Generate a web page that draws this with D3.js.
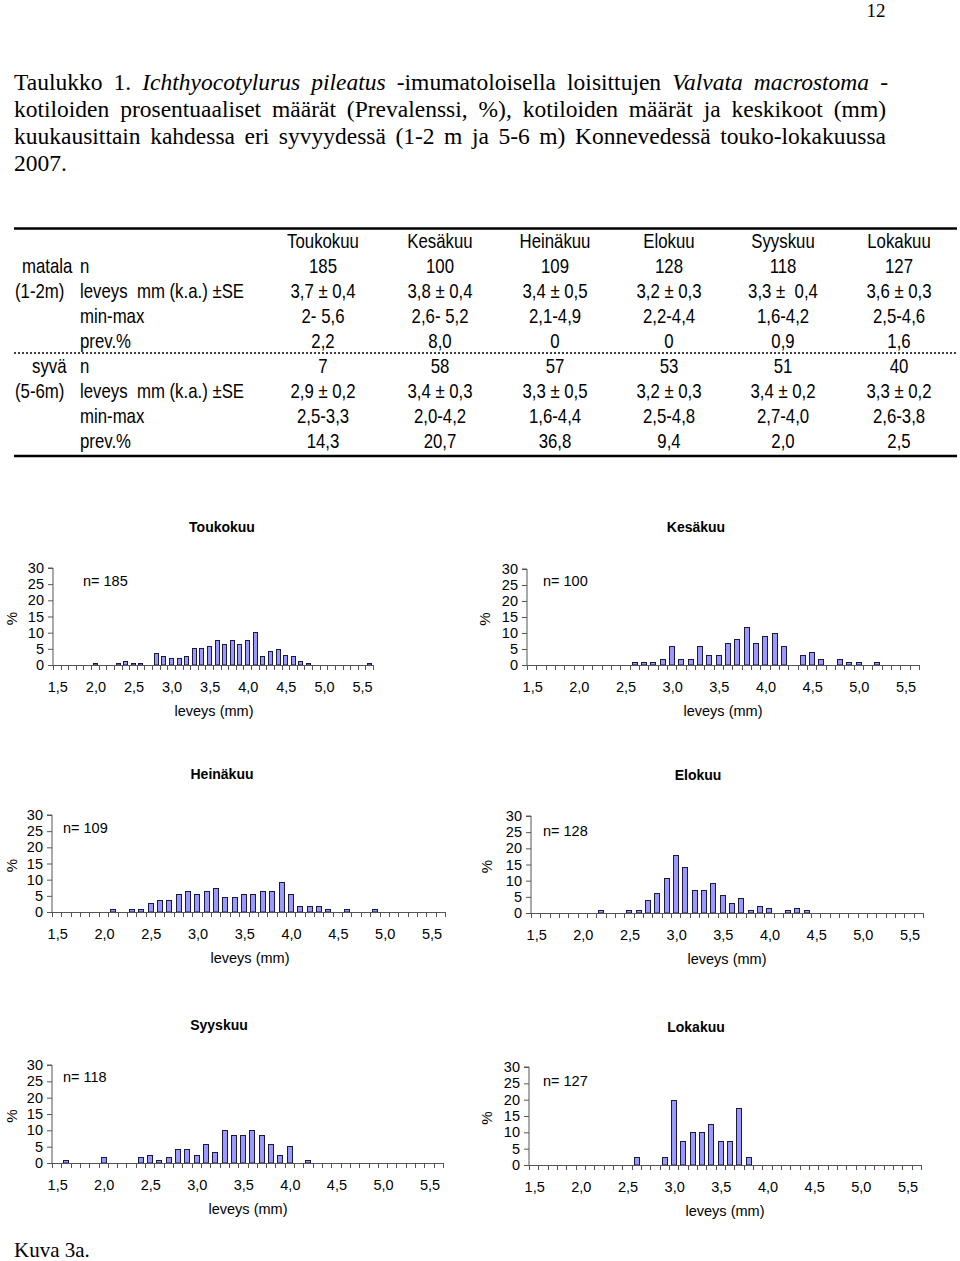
<!DOCTYPE html>
<html><head><meta charset="utf-8">
<script src="https://cdn.jsdelivr.net/npm/d3@7"></script>
<style>
body{margin:0;background:#fff}
svg{display:block}
.serif{font-family:"Liberation Serif","Times New Roman",serif;fill:#000}
.narrow{font-family:"Liberation Sans",Arial,sans-serif;font-size:20px;fill:#000;white-space:pre}
.sans{font-family:"Liberation Sans",Arial,sans-serif;fill:#000}
</style>
</head><body>
<svg id="c" width="960" height="1261"></svg>
<script>
// ---------- table data ----------
const months = ["Toukokuu","Kesäkuu","Heinäkuu","Elokuu","Syyskuu","Lokakuu"];
const shallowN = ["185","100","109","128","118","127"];
const shallowMean = ["3,7 ± 0,4","3,8 ± 0,4","3,4 ± 0,5","3,2 ± 0,3","3,3 ±  0,4","3,6 ± 0,3"];
const shallowRange = ["2- 5,6","2,6- 5,2","2,1-4,9","2,2-4,4","1,6-4,2","2,5-4,6"];
const shallowPrev = ["2,2","8,0","0","0","0,9","1,6"];
const deepN = ["7","58","57","53","51","40"];
const deepMean = ["2,9 ± 0,2","3,4 ± 0,3","3,3 ± 0,5","3,2 ± 0,3","3,4 ± 0,2","3,3 ± 0,2"];
const deepRange = ["2,5-3,3","2,0-4,2","1,6-4,4","2,5-4,8","2,7-4,0","2,6-3,8"];
const deepPrev = ["14,3","20,7","36,8","9,4","2,0","2,5"];

// ---------- histogram data ----------
const categories = ["1,5","1,6","1,7","1,8","1,9","2,0","2,1","2,2","2,3","2,4",
  "2,5","2,6","2,7","2,8","2,9","3,0","3,1","3,2","3,3","3,4",
  "3,5","3,6","3,7","3,8","3,9","4,0","4,1","4,2","4,3","4,4",
  "4,5","4,6","4,7","4,8","4,9","5,0","5,1","5,2","5,3","5,4","5,5","5,6"];
const tickLabels = ["1,5","2,0","2,5","3,0","3,5","4,0","4,5","5,0","5,5"];
const yTicks = [0,5,10,15,20,25,30];
const sampleN = [185,100,109,128,118,127];
const toukokuu = [0,0,0,0,0, 0.5,0,0,0.5,1.1, 0.5,0.5,0,3.8,2.7, 2.2,2.2,2.7,5.4,5.4, 5.9,7.6,6.5,7.6,6.5, 7.6,10.3,2.7,4.3,4.9, 3.2,2.7,1.1,0.5,0, 0,0,0,0,0, 0,0.5];
const kesakuu  = [0,0,0,0,0, 0,0,0,0,0, 0,1,1,1,2, 6,2,2,6,3, 3,7,8,12,7, 9,10,6,0,3, 4,2,0,2,1, 1,0,1,0,0, 0,0];
const heinakuu = [0,0,0,0,0, 0,0.9,0,0.9,0.9, 2.8,3.7,3.7,5.5,6.4, 5.5,6.4,7.3,4.6,4.6, 5.5,5.5,6.4,6.4,9.2, 5.5,1.8,1.8,1.8,0.9, 0,0.9,0,0,0.9, 0,0,0,0,0, 0,0];
const elokuu   = [0,0,0,0,0, 0,0,0.8,0,0, 0.8,0.8,3.9,6.3,10.9, 18.0,14.1,7.0,7.0,9.4, 5.5,3.1,4.7,0.8,2.3, 1.6,0,0.8,1.6,0.8, 0,0,0,0,0, 0,0,0,0,0, 0,0];
const syyskuu  = [0,0.8,0,0,0, 1.7,0,0,0,1.7, 2.5,0.8,1.7,4.2,4.2, 2.5,5.9,3.4,10.2,8.5, 8.5,10.2,8.5,5.9,2.5, 5.1,0,0.8,0,0, 0,0,0,0,0, 0,0,0,0,0, 0,0];
const lokakuu  = [0,0,0,0,0, 0,0,0,0,0, 0,2.5,0,0,2.5, 20,7.5,10,10,12.5, 7.5,7.5,17.5,2.5,0, 0,0,0,0,0, 0,0,0,0,0, 0,0,0,0,0, 0,0];
const histSeries = [toukokuu, kesakuu, heinakuu, elokuu, syyskuu, lokakuu];

const svg = d3.select("#c");

// ---------- page number ----------
svg.append("text").attr("class","serif").attr("x",876).attr("y",17)
  .attr("text-anchor","middle").style("font-size","19px").text("12");

// ---------- caption ----------
const capLines = [
  [["Taulukko 1. ",false],["Ichthyocotylurus pileatus",true],[" -imumatoloisella loisittujen ",false],["Valvata macrostoma",true],[" -",false]],
  [["kotiloiden prosentuaaliset määrät (Prevalenssi, %), kotiloiden määrät ja keskikoot (mm)",false]],
  [["kuukausittain kahdessa eri syvyydessä (1-2 m ja 5-6 m) Konnevedessä touko-lokakuussa",false]],
  [["2007.",false]]
];
const capRight = [888, 886, 886, null];
capLines.forEach((parts,i)=>{
  const t = svg.append("text").attr("class","serif").attr("x",14).attr("y",90+i*27)
    .style("font-size","23.5px").style("white-space","pre");
  parts.forEach(p=>{
    t.append("tspan").style("font-style",p[1]?"italic":"normal").text(p[0]);
  });
  if(capRight[i]){
    const w = t.node().getComputedTextLength();
    const full = parts.map(p=>p[0]).join("");
    const spaces = (full.match(/ /g)||[]).length;
    const ws = (capRight[i]-14-w)/spaces;
    t.style("word-spacing", ws+"px");
  }
});

// ---------- table ----------
const SX = 0.84;
function narrowText(x, y, str, anchor){
  svg.append("text").attr("class","narrow")
    .attr("transform",`translate(${x},${y}) scale(${SX},1)`)
    .attr("text-anchor",anchor||"start").text(str);
}
const colX = [323,440,555,669,783,899];
svg.append("line").attr("x1",14).attr("x2",957).attr("y1",228.5).attr("y2",228.5)
  .attr("stroke","#000").attr("stroke-width",2.5);
svg.append("line").attr("x1",14).attr("x2",957).attr("y1",353).attr("y2",353)
  .attr("stroke","#000").attr("stroke-width",1.6).attr("stroke-dasharray","2,2");
svg.append("line").attr("x1",14).attr("x2",957).attr("y1",456).attr("y2",456)
  .attr("stroke","#000").attr("stroke-width",2.5);

const rowY = [241,266,291,316,341,366,391,416,441];
function rowText(vals, r){
  vals.forEach((v,i)=>narrowText(colX[i], rowY[r]+7, v, "middle"));
}
rowText(months,0);
rowText(shallowN,1); rowText(shallowMean,2); rowText(shallowRange,3); rowText(shallowPrev,4);
rowText(deepN,5); rowText(deepMean,6); rowText(deepRange,7); rowText(deepPrev,8);
const leftLabels = [
  ["matala",22,1],["(1-2m)",15,2],["syvä",32,5],["(5-6m)",15,6]
];
leftLabels.forEach(d=>narrowText(d[1], rowY[d[2]]+7, d[0]));
const rowLabels = ["n","leveys  mm (k.a.) ±SE","min-max","prev.%"];
[1,5].forEach(start=>{
  rowLabels.forEach((l,k)=>narrowText(80, rowY[start+k]+7, l));
});

// ---------- histograms ----------
const panels = [
  {x0:53, x1:373, yb:665, yt:568, tx:222, px:12, nx:83, ny:581, lx:214},
  {x0:527,x1:919, yb:665, yt:569, tx:696, px:485, nx:543, ny:581, lx:723},
  {x0:52, x1:445, yb:912, yt:815, tx:222, px:12, nx:63, ny:828, lx:250},
  {x0:531,x1:923, yb:913, yt:816, tx:698, px:487, nx:543, ny:831, lx:727},
  {x0:52, x1:443, yb:1163,yt:1065,tx:219, px:12, nx:63, ny:1077,lx:248},
  {x0:529,x1:921, yb:1165,yt:1067,tx:696, px:487, nx:543, ny:1081,lx:725}
];

panels.forEach((p,i)=>{
  const data = histSeries[i];
  const x = d3.scaleBand().domain(categories).range([p.x0,p.x1]).paddingInner(0.42).paddingOuter(0.21);
  const xb = d3.scaleBand().domain(categories).range([p.x0,p.x1]);
  const y = d3.scaleLinear().domain([0,30]).range([p.yb,p.yt]);
  const g = svg.append("g");

  g.append("text").attr("class","sans").attr("x",p.tx).attr("y",p.yb-138+5)
    .attr("text-anchor","middle").style("font-size","14px").style("font-weight","bold").text(months[i]);

  g.selectAll("rect.bar").data(categories.map((c,k)=>({c,v:data[k]})).filter(d=>d.v>0))
    .enter().append("rect")
    .attr("x",d=>Math.round(x(d.c))+0.5)
    .attr("width",Math.max(2,Math.round(x.bandwidth())))
    .attr("y",d=>Math.round(y(d.v))+0.5)
    .attr("height",d=>Math.max(0,p.yb-Math.round(y(d.v))-0.5))
    .attr("fill","#9999ff").attr("stroke","#1a1a40").attr("stroke-width",1);

  const ya = d3.axisLeft(y).tickValues(yTicks).tickSize(5).tickPadding(4).tickFormat(d3.format("d"));
  const yg = g.append("g").attr("transform",`translate(${p.x0},0)`).call(ya);
  yg.select(".domain").attr("stroke","#555").attr("d",`M-5,${p.yt}H0V${p.yb}`);
  yg.selectAll(".tick line").attr("stroke","#555");
  yg.selectAll("text").attr("font-family","Liberation Sans, Arial, sans-serif").attr("font-size","14.5px").attr("fill","#000");

  const xg = g.append("g");
  xg.append("line").attr("x1",p.x0).attr("x2",p.x1).attr("y1",p.yb+0.5).attr("y2",p.yb+0.5).attr("stroke","#555");
  const bounds = categories.map(c=>xb(c)).concat([p.x1]);
  xg.selectAll("line.t").data(bounds).enter().append("line")
    .attr("x1",d=>Math.round(d)+0.5).attr("x2",d=>Math.round(d)+0.5)
    .attr("y1",p.yb).attr("y2",p.yb+5).attr("stroke","#555");
  xg.selectAll("text").data(tickLabels).enter().append("text").attr("class","sans")
    .attr("x",d=>xb(d)+xb.bandwidth()/2+1).attr("y",p.yb+27)
    .attr("text-anchor","middle").style("font-size","14.5px").text(d=>d);

  g.append("text").attr("class","sans").attr("x",p.lx).attr("y",p.yb+51)
    .attr("text-anchor","middle").style("font-size","14.5px").text("leveys (mm)");
  g.append("text").attr("class","sans")
    .attr("transform",`translate(${p.px+5},${(p.yb+p.yt)/2+2}) rotate(-90)`)
    .attr("text-anchor","middle").style("font-size","15px").text("%");
  g.append("text").attr("class","sans").attr("x",p.nx).attr("y",p.ny+5)
    .style("font-size","14.5px").text("n= "+sampleN[i]);
});

svg.append("text").attr("class","serif").attr("x",14).attr("y",1257).style("font-size","21px").text("Kuva 3a.");
</script>
</body></html>
